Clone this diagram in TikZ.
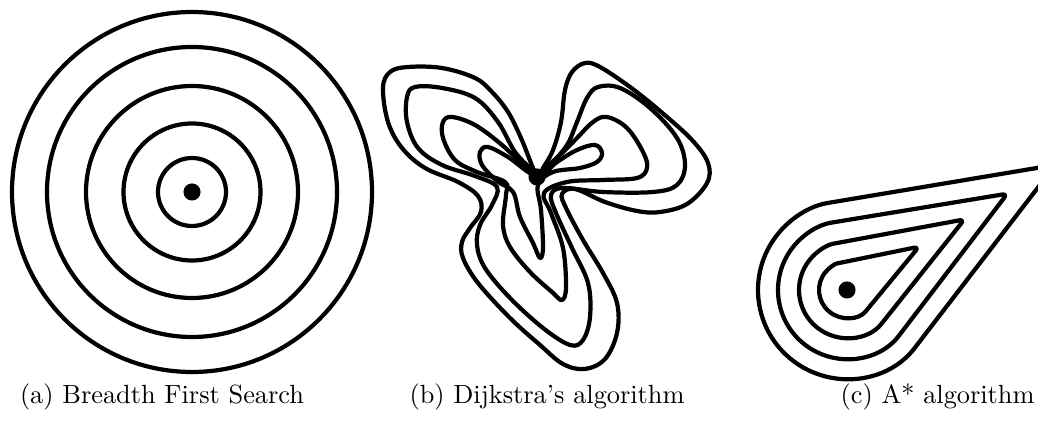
\documentclass[tikz,border=0pt]{standalone}
\usetikzlibrary{calc}

\begin{document}
\begin{tikzpicture}[x=0.38pt, y=-0.38pt, wavefront/.style={line width=1.6pt, line join=round}, seed/.style={circle, fill, inner sep=0pt, minimum size=6.5pt}, caption/.style={inner sep=0pt}]
\useasboundingbox (0,0) rectangle (1038,421);
\node[seed] (bfs) at (192,192) {};
\node[seed] (dijkstra) at (537,177) {};
\node[seed] (astar) at (847,290) {};
\node[caption] (capBFS) at (162,397) {(a) Breadth First Search};
\node[caption] (capDijkstra) at (547,397) {(b) Dijkstra's algorithm};
\node[caption, anchor=east] (capAstar) at (1035,397) {(c) A* algorithm};
\foreach \r in {34,68.5,106,145,180}
  \draw[wavefront] (bfs) circle[radius=\r];
\draw[wavefront] plot[smooth cycle, tension=0.6] coordinates {(537,176) (521,138) (508,112) (492,92) (475,78) (442,68) (408,67) (390,72) (383,88) (388,122) (402,148) (425,168) (458,182) (478,196) (481,212) (470,228) (462,242) (463,258) (478,283) (510,318) (540,345) (563,364) (585,369) (605,359) (617,333) (617,303) (603,273) (583,240) (566,208) (562,194) (575,189) (605,202) (637,211) (660,212) (687,204) (707,183) (708,163) (692,140) (660,111) (630,87) (600,67) (585,63) (572,72) (565,90) (561,122) (553,150) (543,168)};
\draw[wavefront] plot[smooth cycle, tension=0.6] coordinates {(537,176) (532,170) (515,152) (498,122) (475,98) (442,88) (415,87) (407,97) (407,122) (418,148) (442,165) (475,176) (497,187) (492,205) (480,225) (477,245) (485,268) (510,298) (543,328) (570,345) (583,340) (590,317) (588,283) (572,248) (556,213) (551,195) (563,188) (603,192) (653,192) (677,185) (685,165) (677,138) (650,108) (620,88) (598,87) (587,98) (577,122) (567,145) (550,165)};
\draw[wavefront] plot[smooth cycle, tension=0.6] coordinates {(537,176) (525,167) (502,145) (475,125) (452,117) (443,122) (443,138) (455,160) (477,172) (505,182) (506,195) (503,225) (510,247) (530,272) (552,292) (562,300) (566,287) (563,248) (551,213) (544,193) (567,182) (603,180) (637,178) (647,168) (643,152) (627,128) (607,117) (593,122) (577,138) (560,155) (545,168)};
\draw[wavefront] plot[smooth cycle, tension=0.6] coordinates {(537,176) (508,157) (488,147) (480,152) (482,165) (497,181) (513,192) (520,217) (533,243) (540,258) (543,247) (541,210) (538,185) (553,172) (580,168) (597,162) (602,153) (595,145) (577,150) (557,162)};
\foreach \r/\a/\b/\tx/\ty in {28/39.5/258.5/919/246.7, 48/38.5/259.5/964.4/219.4, 69/37.4/260.6/1007.3/193.7, 89/37.5/260.5/1055.3/164.9}
  \draw[wavefront, rounded corners=2pt] (\tx,\ty) -- ($(astar)+(\a:\r)$) arc[start angle=\a, end angle=\b, radius=\r] -- cycle;
\end{tikzpicture}
\end{document}
